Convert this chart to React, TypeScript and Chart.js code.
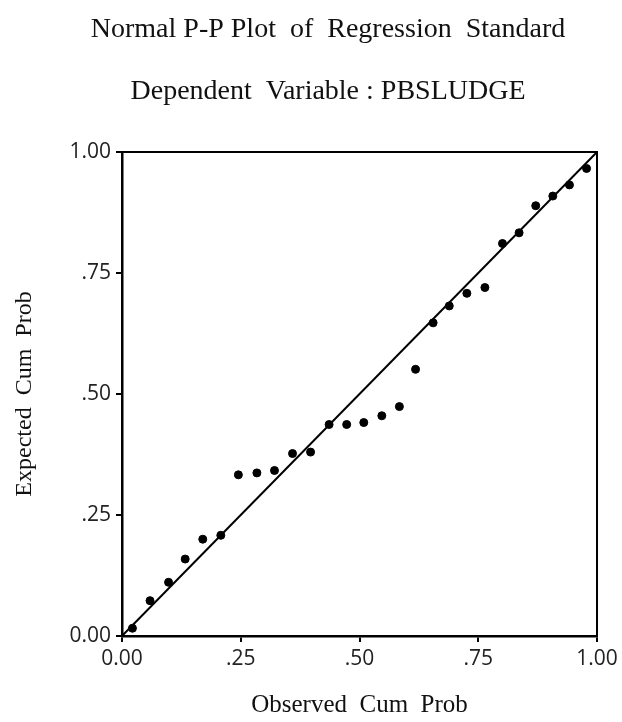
import React, { useEffect, useRef } from "react";
import { Chart, registerables } from "chart.js";

Chart.register(...registerables);

const titleLines = ["Normal P-P Plot  of  Regression  Standard", "Dependent  Variable : PBSLUDGE"];
const xTitle = "Observed  Cum  Prob";
const yTitle = "Expected  Cum  Prob";

const observedCumProb = [
  0.022, 0.059, 0.098, 0.133, 0.170, 0.208, 0.245, 0.284, 0.321, 0.359, 0.397, 0.436, 0.473,
  0.509, 0.547, 0.584, 0.618, 0.655, 0.689, 0.726, 0.764, 0.801, 0.836, 0.871, 0.907, 0.942, 0.978,
];
const expectedCumProb = [
  0.016, 0.073, 0.111, 0.159, 0.200, 0.208, 0.333, 0.337, 0.342, 0.377, 0.380, 0.437, 0.437,
  0.441, 0.455, 0.474, 0.551, 0.647, 0.682, 0.708, 0.720, 0.811, 0.833, 0.889, 0.909, 0.932, 0.966,
];
const referenceLineX = [0, 1];
const referenceLineY = [0, 1];
const tickValues = [0, 0.25, 0.5, 0.75, 1];
const tickLabels = ["0.00", ".25", ".50", ".75", "1.00"];

const fmt = (v: number) => {
  const i = tickValues.findIndex((t) => Math.abs(t - v) < 1e-6);
  return i >= 0 ? tickLabels[i] : "";
};

export default function App() {
  const ref = useRef<HTMLCanvasElement | null>(null);
  useEffect(() => {
    if (!ref.current) return;
    const boxPlugin = {
      id: "boxAndTitles",
      afterDraw(chart: any) {
        const { ctx, chartArea } = chart;
        ctx.save();
        ctx.strokeStyle = "#000";
        ctx.lineWidth = 2;
        ctx.strokeRect(chartArea.left, chartArea.top, chartArea.right - chartArea.left, chartArea.bottom - chartArea.top);
        ctx.fillStyle = "#111";
        ctx.font = "28px 'Liberation Serif'";
        ctx.textAlign = "center";
        ctx.textBaseline = "alphabetic";
        ctx.fillText(titleLines[0], 328, 37);
        ctx.fillText(titleLines[1], 328, 99);
        ctx.restore();
      },
    };
    const chart = new Chart(ref.current, {
      type: "scatter",
      data: {
        datasets: [
          {
            type: "line",
            data: referenceLineX.map((x, i) => ({ x, y: referenceLineY[i] })),
            borderColor: "#000",
            borderWidth: 2,
            pointRadius: 0,
            fill: false,
          } as any,
          {
            data: observedCumProb.map((x, i) => ({ x, y: expectedCumProb[i] })),
            backgroundColor: "#000",
            borderColor: "#000",
            pointRadius: 4,
            pointStyle: "circle",
          },
        ],
      },
      options: {
        animation: false,
        responsive: false,
        layout: { padding: { top: 152, left: 0, right: 25, bottom: 0 } },
        plugins: { legend: { display: false }, tooltip: { enabled: false }, title: { display: false } },
        scales: {
          x: {
            type: "linear",
            min: 0,
            max: 1,
            afterFit: (s: any) => {
              s.height = 86;
            },
            afterBuildTicks: (s: any) => {
              s.ticks = tickValues.map((v) => ({ value: v }));
            },
            ticks: {
              callback: (v: any) => fmt(Number(v)),
              color: "#222",
              font: { family: "'Open Sans'", size: 21 },
              padding: 4,
              maxRotation: 0,
              autoSkip: false,
            },
            grid: { drawOnChartArea: false, drawTicks: true, tickLength: 6, color: "#000", lineWidth: 2 },
            border: { display: true, color: "#000", width: 2.5 },
            title: {
              display: true,
              text: xTitle,
              color: "#111",
              font: { family: "'Liberation Serif'", size: 25 },
              padding: { top: 0, bottom: 2 },
            },
          },
          y: {
            type: "linear",
            min: 0,
            max: 1,
            afterFit: (s: any) => {
              s.width = 122;
            },
            afterBuildTicks: (s: any) => {
              s.ticks = tickValues.map((v) => ({ value: v }));
            },
            ticks: {
              callback: (v: any) => fmt(Number(v)),
              color: "#222",
              font: { family: "'Open Sans'", size: 21 },
              padding: 5,
              autoSkip: false,
            },
            grid: { drawOnChartArea: false, drawTicks: true, tickLength: 6, color: "#000", lineWidth: 2 },
            border: { display: true, color: "#000", width: 2.5 },
            title: {
              display: true,
              text: yTitle,
              color: "#111",
              font: { family: "'Liberation Serif'", size: 24 },
              padding: { top: 10, bottom: 0 },
            },
          },
        },
      },
      plugins: [boxPlugin],
    });
    return () => chart.destroy();
  }, []);
  return (
    <div style={{ position: "fixed", left: 0, top: 0, width: 622, height: 722, background: "#fff" }}>
      <canvas ref={ref} width={622} height={722} style={{ width: 622, height: 722 }} />
    </div>
  );
}
